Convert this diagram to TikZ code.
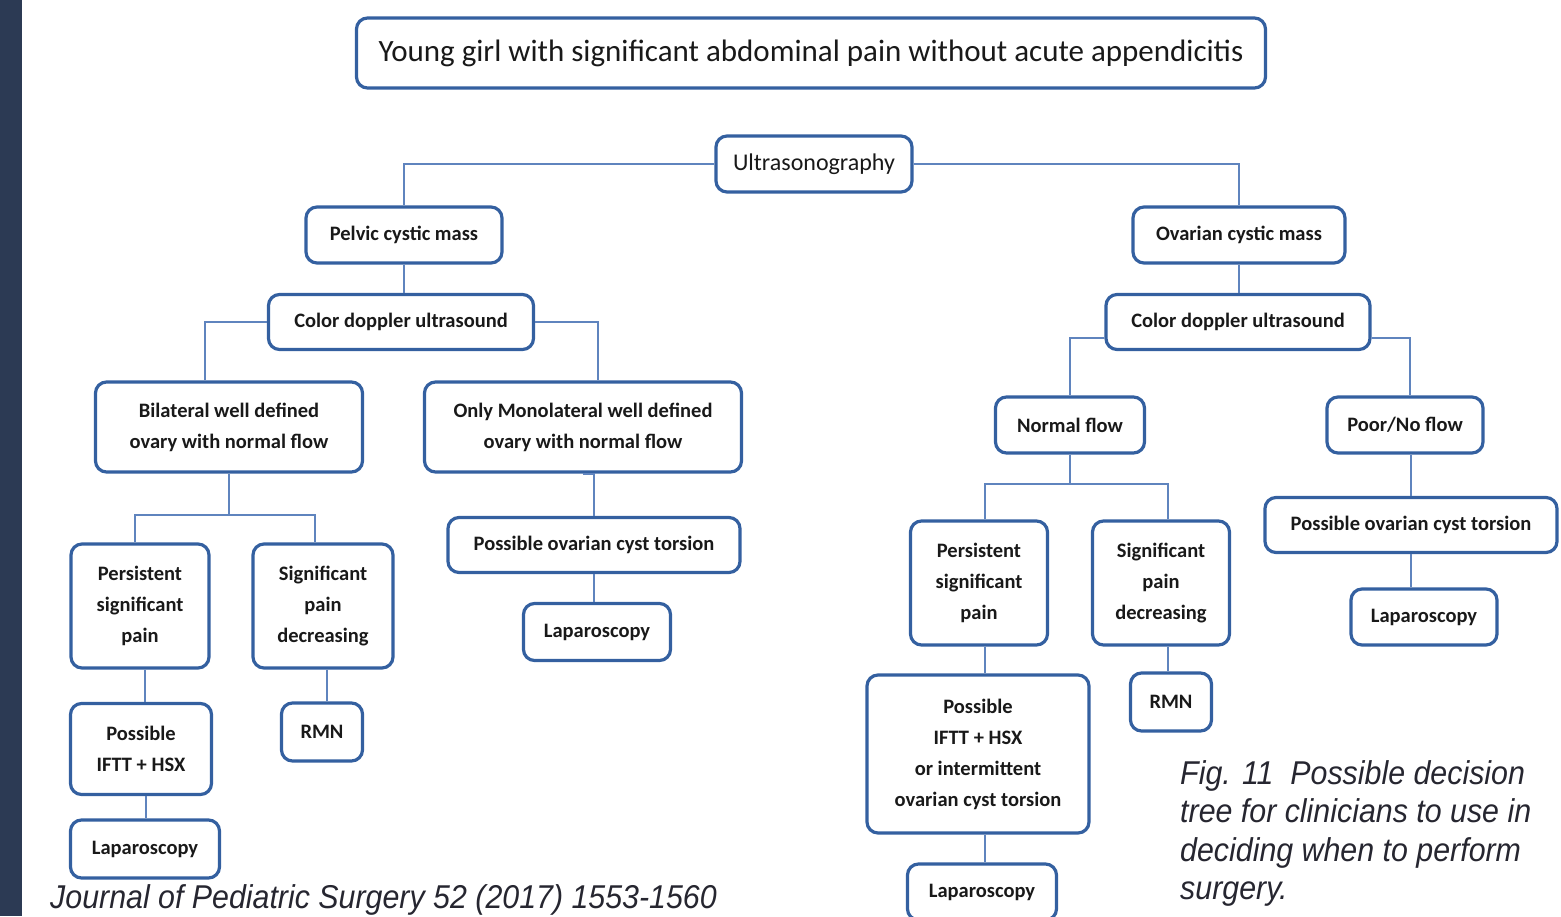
\documentclass[tikz,border=0pt]{standalone}
\usepackage{fontspec}
\setmainfont{Carlito}
\newfontfamily\capfont[FakeStretch=0.92]{Liberation Sans}
\usepackage{tikz}
\usetikzlibrary{calc,positioning}
\definecolor{boxblue}{RGB}{52,96,160}
\definecolor{linkblue}{RGB}{95,132,190}
\definecolor{barblue}{RGB}{44,58,84}
\definecolor{captgray}{RGB}{38,38,48}

\begin{document}
\begin{tikzpicture}[x=1pt,y=-1pt,
  box/.style={draw=boxblue,line width=3.2pt,rounded corners=11pt,fill=white,align=center,inner sep=0pt,text=black!90,font=\bfseries\fontsize{20.5}{31}\selectfont},
  link/.style={draw=linkblue,line width=1.8pt},
  capt/.style={inner sep=0pt,text=captgray,font=\capfont\itshape\fontsize{33}{38.5}\selectfont}]
\useasboundingbox (0,0) rectangle (1561,916);
\fill[barblue] (0,0) rectangle (22,916);
\node[box,minimum width=909pt,minimum height=70pt,font=\fontsize{31}{34}\selectfont] (title) at (811,53) {Young girl with significant abdominal pain without acute appendicitis};
\node[box,minimum width=196pt,minimum height=56pt,font=\fontsize{24}{28}\selectfont] (us) at (814,164) {Ultrasonography};
\node[box,minimum width=196pt,minimum height=56pt] (pelvic) at (404,235) {Pelvic cystic mass};
\node[box,minimum width=212pt,minimum height=56pt] (ovarian) at (1239,235) {Ovarian cystic mass};
\node[box,minimum width=265pt,minimum height=55pt] (cdl) at (401,322) {Color doppler ultrasound};
\node[box,minimum width=264pt,minimum height=55pt] (cdr) at (1238,322) {Color doppler ultrasound};
\node[box,minimum width=267pt,minimum height=90pt] (bil) at (229,427) {Bilateral well defined\\ovary with normal flow};
\node[box,minimum width=317pt,minimum height=90pt] (mono) at (583,427) {Only Monolateral well defined\\ovary with normal flow};
\node[box,minimum width=149pt,minimum height=56pt] (normal) at (1070,425) {Normal flow};
\node[box,minimum width=156pt,minimum height=56pt] (poor) at (1405,425) {Poor/No flow};
\node[box,minimum width=292pt,minimum height=55pt] (torl) at (594,545) {Possible ovarian cyst torsion};
\node[box,minimum width=292pt,minimum height=55pt] (torr) at (1411,525) {Possible ovarian cyst torsion};
\node[box,minimum width=147pt,minimum height=57pt] (lapm) at (597,632) {Laparoscopy};
\node[box,minimum width=146pt,minimum height=56pt] (lapr) at (1424,617) {Laparoscopy};
\node[box,minimum width=138pt,minimum height=124pt] (perl) at (140,606) {Persistent\\significant\\pain};
\node[box,minimum width=140pt,minimum height=124pt] (sigl) at (323,606) {Significant\\pain\\decreasing};
\node[box,minimum width=141pt,minimum height=91pt] (ifttl) at (141,749) {Possible\\IFTT + HSX};
\node[box,minimum width=81pt,minimum height=58pt] (rmnl) at (322,732) {RMN};
\node[box,minimum width=149pt,minimum height=58pt] (lapl) at (145,849) {Laparoscopy};
\node[box,minimum width=137pt,minimum height=124pt] (perr) at (979,583) {Persistent\\significant\\pain};
\node[box,minimum width=137pt,minimum height=124pt] (sigr) at (1161,583) {Significant\\pain\\decreasing};
\node[box,minimum width=222pt,minimum height=158pt] (ifttr) at (978,754) {Possible\\IFTT + HSX\\or intermittent\\ovarian cyst torsion};
\node[box,minimum width=81pt,minimum height=58pt] (rmnr) at (1171,702) {RMN};
\node[box,minimum width=149pt,minimum height=56pt] (lapb) at (982,892) {Laparoscopy};
\coordinate (bj) at (229,515);
\coordinate (nj) at (1070,484);
\draw[link] (us.west) -| (pelvic.north);
\draw[link] (us.east) -| (ovarian.north);
\draw[link] (pelvic.south) -- (pelvic.south |- cdl.north);
\draw[link] (ovarian.south) -- (ovarian.south |- cdr.north);
\draw[link] (cdl.west) -| ([xshift=-24pt]bil.north);
\draw[link] (cdl.east) -| ([xshift=15pt]mono.north);
\draw[link] ([yshift=-16pt]cdr.west) -| (normal.north);
\draw[link] ([yshift=-16pt]cdr.east) -| ([xshift=5pt]poor.north);
\draw[link] (bil.south) -- (bj);
\draw[link] ([xshift=-5pt]perl.north) |- (bj) -| ([xshift=-8pt]sigl.north);
\draw[link] (normal.south) -- (nj);
\draw[link] ([xshift=6pt]perr.north) |- (nj) -| ([xshift=7pt]sigr.north);
\draw[link] (mono.south) -- (mono.south -| torl.north) -- (torl.north);
\draw[link] (torl.south) -- (torl.south |- lapm.north);
\draw[link] (torr.north) -- (torr.north |- poor.south);
\draw[link] (torr.south) -- (torr.south |- lapr.north);
\draw[link] ([xshift=5pt]perl.south) -- ([xshift=5pt]perl.south |- ifttl.north);
\draw[link] ([xshift=5pt]ifttl.south) -- ([xshift=5pt]ifttl.south |- lapl.north);
\draw[link] ([xshift=4pt]sigl.south) -- ([xshift=4pt]sigl.south |- rmnl.north);
\draw[link] ([xshift=6pt]perr.south) -- ([xshift=6pt]perr.south |- ifttr.north);
\draw[link] ([xshift=7pt]ifttr.south) -- ([xshift=7pt]ifttr.south |- lapb.north);
\draw[link] ([xshift=7pt]sigr.south) -- ([xshift=7pt]sigr.south |- rmnr.north);
\node[capt,anchor=base west] (jrnl) at (50,908) {Journal of Pediatric Surgery 52 (2017) 1553-1560};
\node[capt,anchor=north west,align=left] (fig) at (1180,760) {Fig. 11\ \ Possible decision\\tree for clinicians to use in\\deciding when to perform\\surgery.};
\end{tikzpicture}
\end{document}
